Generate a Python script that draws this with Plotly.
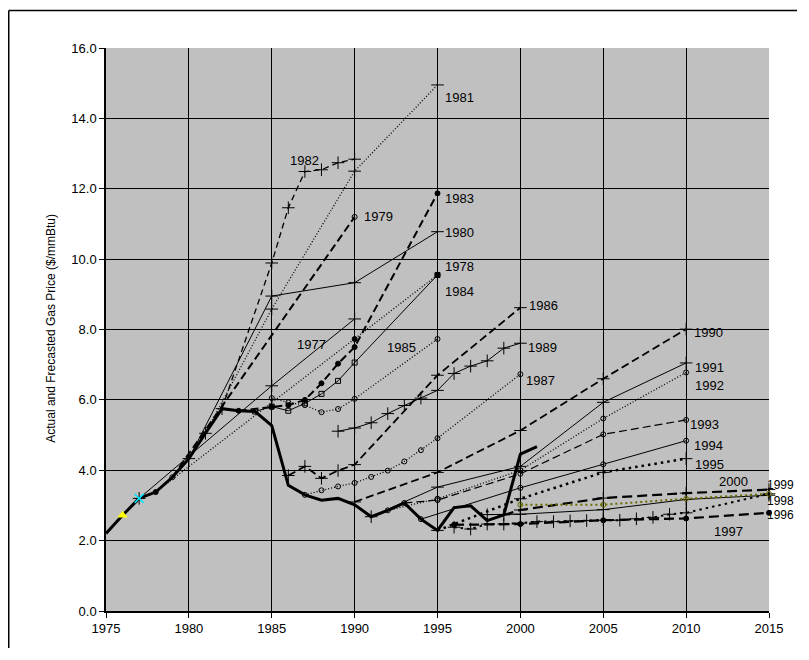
import plotly.graph_objects as go

# ---------------- data ----------------
actual_years = list(range(1975, 2002))
actual_vals = [2.2, 2.72, 3.2, 3.38, 3.8, 4.33, 5.05, 5.75, 5.69, 5.67, 5.27, 3.57, 3.3, 3.15,
               3.2, 3.02, 2.68, 2.86, 3.07, 2.61, 2.29, 2.94, 2.99, 2.57, 2.73, 4.46, 4.67]

f1977_years = [1977, 1985, 1990]
f1977_vals = [3.2, 6.4, 8.3]
f1978_years = [1978, 1990, 1995]
f1978_vals = [3.38, 7.73, 9.55]
f1979_years = [1979, 1990]
f1979_vals = [3.8, 11.2]
f1980_years = [1980, 1985, 1990, 1995]
f1980_vals = [4.33, 8.95, 9.33, 10.78]
f1981_years = [1981, 1985, 1990, 1995]
f1981_vals = [5.05, 8.58, 12.5, 14.95]
f1982_years = [1982, 1985, 1986, 1987, 1988, 1989, 1990]
f1982_vals = [5.75, 9.89, 11.46, 12.49, 12.54, 12.74, 12.84]
f1983_years = [1983, 1985, 1986, 1987, 1988, 1989, 1990, 1995]
f1983_vals = [5.69, 5.8, 5.85, 6.0, 6.47, 7.03, 7.5, 11.87]
f1984_years = [1984, 1985, 1986, 1987, 1988, 1989, 1990, 1995]
f1984_vals = [5.67, 5.81, 5.69, 5.9, 6.17, 6.54, 7.06, 9.55]
f1985_years = [1985, 1986, 1987, 1988, 1989, 1990, 1995]
f1985_vals = [6.05, 5.93, 5.85, 5.65, 5.74, 6.03, 7.73]
f1986_years = [1986, 1987, 1988, 1989, 1990, 1995, 2000]
f1986_vals = [3.85, 4.11, 3.77, 3.99, 4.16, 6.7, 8.62]
f1987_years = [1987, 1988, 1989, 1990, 1991, 1992, 1993, 1994, 1995, 2000]
f1987_vals = [3.3, 3.43, 3.54, 3.64, 3.81, 3.99, 4.25, 4.57, 4.91, 6.73]
f1989_years = list(range(1989, 2001))
f1989_vals = [5.11, 5.2, 5.35, 5.61, 5.84, 6.05, 6.27, 6.75, 6.96, 7.11, 7.47, 7.61]
f1990_years = [1990, 1995, 2000, 2005, 2010]
f1990_vals = [3.1, 3.94, 5.13, 6.6, 8.01]
f1991_years = [1991, 1995, 2000, 2005, 2010]
f1991_vals = [2.68, 3.52, 4.11, 5.93, 7.05]
f1992_years = [1992, 1995, 2000, 2005, 2010]
f1992_vals = [2.86, 3.19, 4.0, 5.47, 6.78]
f1993_years = [1993, 1995, 2000, 2005, 2010]
f1993_vals = [3.07, 3.15, 3.9, 5.02, 5.43]
f1994_years = [1994, 2000, 2005, 2010]
f1994_vals = [2.61, 3.5, 4.17, 4.84]
f1995_years = [1995, 2000, 2005, 2010]
f1995_vals = [2.29, 3.19, 3.94, 4.33]
f1996_years = [1996, 2000, 2005, 2010, 2015]
f1996_vals = [2.45, 2.47, 2.58, 2.63, 2.79]
f1997_years = [1996, 1997, 1998, 1999, 2000, 2001, 2002, 2003, 2004, 2005, 2006, 2007, 2008,
               2009, 2010, 2015]
f1997_vals = [2.38, 2.33, 2.47, 2.47, 2.5, 2.54, 2.54, 2.56, 2.57, 2.58, 2.58, 2.62, 2.66,
              2.75, 2.79, 3.33]
f1998_years = [1998, 2000, 2005, 2010, 2015]
f1998_vals = [2.74, 2.75, 2.88, 3.17, 3.29]
f1999_years = [1999, 2000, 2005, 2010, 2015]
f1999_vals = [2.73, 2.87, 3.21, 3.35, 3.45]
f2000_years = [2000, 2005, 2010, 2015]
f2000_vals = [3.02, 3.02, 3.19, 3.33]

x_ticks = [1975, 1980, 1985, 1990, 1995, 2000, 2005, 2010, 2015]
y_ticks = [0, 2, 4, 6, 8, 10, 12, 14, 16]

# ---------------- styles ----------------
DOT = "1px,2px"
HDASH = "8px,4px"
HDOT = "2.5px,4px"

series = [
    ("1977", f1977_years, f1977_vals, None, 1, "cross-thin-open", "black"),
    ("1978", f1978_years, f1978_vals, DOT, 1.3, "circle", "black"),
    ("1979", f1979_years, f1979_vals, HDASH, 2, "circle-open", "black"),
    ("1980", f1980_years, f1980_vals, None, 1, "cross-thin-open", "black"),
    ("1981", f1981_years, f1981_vals, DOT, 1.3, "cross-thin-open", "black"),
    ("1982", f1982_years, f1982_vals, "6px,4px", 1.3, "cross-thin-open", "black"),
    ("1983", f1983_years, f1983_vals, HDASH, 2, "circle", "black"),
    ("1984", f1984_years, f1984_vals, None, 1, "square-open", "black"),
    ("1985", f1985_years, f1985_vals, DOT, 1.3, "circle-open", "black"),
    ("1986", f1986_years, f1986_vals, HDASH, 1.8, "cross-thin-open", "black"),
    ("1987", f1987_years, f1987_vals, DOT, 1.3, "circle-open", "black"),
    ("1989", f1989_years, f1989_vals, None, 1, "cross-thin-open", "black"),
    ("1990", f1990_years, f1990_vals, HDASH, 1.8, "cross-thin-open", "black"),
    ("1991", f1991_years, f1991_vals, None, 1, "cross-thin-open", "black"),
    ("1992", f1992_years, f1992_vals, DOT, 1.3, "circle-open", "black"),
    ("1993", f1993_years, f1993_vals, "8px,4px", 1.2, "circle-open", "black"),
    ("1994", f1994_years, f1994_vals, None, 1, "circle-open", "black"),
    ("1995", f1995_years, f1995_vals, HDOT, 2.5, "cross-thin-open", "black"),
    ("1996", f1996_years, f1996_vals, "10px,5px", 2.2, "circle", "black"),
    ("1997", f1997_years, f1997_vals, HDOT, 2, "cross-thin-open", "black"),
    ("1998", f1998_years, f1998_vals, None, 1, "cross-thin-open", "black"),
    ("1999", f1999_years, f1999_vals, "10px,5px", 2.2, "cross-thin-open", "black"),
    ("2000", f2000_years, f2000_vals, "2px,3px", 2, "circle-open", "#6b6b00"),
]

# label placement: (text, x, y, xanchor)
labels = [
    ("1981", 1995.35, 14.6, "left"),
    ("1982", 1987.0, 12.8, "center"),
    ("1979", 1990.45, 11.2, "left"),
    ("1983", 1995.35, 11.73, "left"),
    ("1980", 1995.35, 10.75, "left"),
    ("1978", 1995.35, 9.8, "left"),
    ("1984", 1995.35, 9.09, "left"),
    ("1977", 1987.4, 7.58, "center"),
    ("1985", 1992.8, 7.49, "center"),
    ("1986", 2000.4, 8.67, "left"),
    ("1989", 2000.35, 7.49, "left"),
    ("1987", 2000.2, 6.54, "left"),
    ("1990", 2010.35, 7.92, "left"),
    ("1991", 2010.4, 6.91, "left"),
    ("1992", 2010.4, 6.4, "left"),
    ("1993", 2010.1, 5.31, "left"),
    ("1994", 2010.35, 4.69, "left"),
    ("1995", 2010.4, 4.15, "left"),
    ("2000", 2011.85, 3.68, "left"),
    ("1997", 2011.55, 2.25, "left"),
]
edge_labels = [("1999", 3.57), ("1998", 3.14), ("1996", 2.72)]

FONT = "Liberation Sans, Arial, sans-serif"

fig = go.Figure()

for name, xs, ys, dash, width, sym, color in series:
    is_cross = sym.startswith("cross")
    fig.add_trace(go.Scatter(
        x=xs, y=ys, mode="lines+markers", name=name,
        line=dict(color=color, width=width, dash=dash if dash else "solid"),
        marker=dict(symbol=sym, size=9 if is_cross else 5, color=color,
                    line=dict(color=color, width=1)),
        showlegend=False, hoverinfo="skip", cliponaxis=False,
    ))

fig.add_trace(go.Scatter(
    x=actual_years, y=actual_vals, mode="lines", name="Actual",
    line=dict(color="black", width=3), showlegend=False,
))
fig.add_trace(go.Scatter(
    x=actual_years[1:2], y=actual_vals[1:2], mode="markers", showlegend=False,
    marker=dict(symbol="triangle-up", size=9, color="#ffff00", line=dict(width=0)),
))
fig.add_trace(go.Scatter(
    x=actual_years[2:3], y=actual_vals[2:3], mode="markers", showlegend=False,
    marker=dict(symbol="x-thin-open", size=9, color="#00e5ff",
                line=dict(color="#00e5ff", width=1.5)),
))

annotations = []
for text, x, y, xa in labels:
    annotations.append(dict(x=x, y=y, xref="x", yref="y", text=text, showarrow=False,
                            xanchor=xa, yanchor="middle",
                            font=dict(family=FONT, size=13, color="black")))
for text, y in edge_labels:
    annotations.append(dict(x=1.0407, y=y, xref="paper", yref="y", text=text, showarrow=False,
                            xanchor="right", yanchor="middle",
                            font=dict(family=FONT, size=12, color="black")))
annotations.append(dict(x=-0.083, y=0.503, xref="paper", yref="paper",
                        text="Actual and Frecasted Gas Price ($/mmBtu)", textangle=-90,
                        showarrow=False, xanchor="center", yanchor="middle",
                        font=dict(family=FONT, size=12, color="black")))

frame = dict(color="black", width=1.5)
fig.update_layout(
    width=789, height=640,
    margin=dict(l=98, r=28, t=40, b=31),
    paper_bgcolor="white", plot_bgcolor="#c0c0c0",
    font=dict(family=FONT, size=13, color="black"),
    annotations=annotations,
    shapes=[
        dict(type="line", xref="paper", yref="paper", x0=-0.1467, x1=-0.1467,
             y0=-0.2, y1=1.0668, line=frame, layer="above"),
        dict(type="line", xref="paper", yref="paper", x0=-0.1467, x1=1.2,
             y0=1.0668, y1=1.0668, line=frame, layer="above"),
    ],
    xaxis=dict(range=[1975, 2015], tickvals=x_ticks, showgrid=True, gridcolor="black",
               gridwidth=1, ticks="outside", ticklen=5, tickcolor="black",
               showline=True, linecolor="black", linewidth=1.5, zeroline=False,
               tickfont=dict(size=13)),
    yaxis=dict(range=[0, 16], tickvals=y_ticks, tickformat=".1f", showgrid=True,
               gridcolor="black", gridwidth=1, ticks="outside", ticklen=5,
               tickcolor="black", showline=True, linecolor="black", linewidth=1.5,
               zeroline=False, tickfont=dict(size=13)),
)

fig.write_html("out.html")
